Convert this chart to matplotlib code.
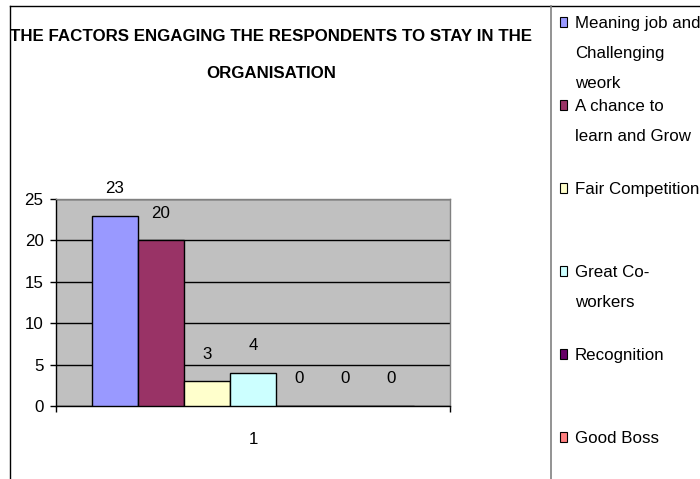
import matplotlib
matplotlib.use("Agg")
import matplotlib.pyplot as plt
from matplotlib.lines import Line2D
from matplotlib.patches import Rectangle

# no narrow Arial here, so plain Liberation Sans at a smaller size keeps the widths
plt.rcParams['font.family'] = ['Liberation Sans', 'DejaVu Sans']

# data
series = ["Meaning job and\nChallenging\nweork",
          "A chance to\nlearn and Grow",
          "Fair Competition",
          "Great Co-\nworkers",
          "Recognition",
          "Good Boss"]
values = [23, 20, 3, 4, 0, 0, 0]
colors = ["#9999FF", "#993366", "#FFFFCC", "#CCFFFF", "#660066", "#FF8080", "#0066CC"]
category = [1]
yticks = [0, 5, 10, 15, 20, 25]
title = "THE FACTORS ENGAGING THE RESPONDENTS TO STAY IN THE\nORGANISATION"

W, H = 700, 479
fig = plt.figure(figsize=(7, 4.79), dpi=100)


def fx(px):
    return px / W


def fy(py):
    return 1 - py / H


FS = 12.2

ax = fig.add_axes([fx(56), fy(406), fx(450) - fx(56), fy(199) - fy(406)])
ax.set_facecolor("#C0C0C0")

n = len(values)
bw = 46 / 394.0
for i, v in enumerate(values):
    xc = category[0] + (i - (n - 1) / 2.0) * bw
    ax.bar(xc, v, width=bw, color=colors[i], edgecolor="black", linewidth=1.0, zorder=3)
    ax.annotate(str(v), (xc, v), xytext=(0, 19.5), textcoords="offset points",
                ha="center", va="center", fontsize=FS, zorder=4)

ax.set_xlim(0.5, 1.5)
ax.set_ylim(0, 25)
ax.set_yticks(yticks)
ax.set_yticklabels([str(t) for t in yticks], fontsize=FS)
ax.yaxis.grid(True, color="black", linewidth=1.0, zorder=1)
ax.set_axisbelow(True)
ax.tick_params(axis="y", direction="out", length=4.5, width=1, pad=4.5, colors="black")

ax.set_xticks(category)
ax.set_xticklabels([str(c) for c in category], fontsize=FS)
ax.set_xticks([0.5, 1.5], minor=True)
ax.tick_params(axis="x", which="major", length=0, pad=19)
ax.tick_params(axis="x", which="minor", direction="out", length=4.5, width=1)

for s in ["top", "right"]:
    ax.spines[s].set_color("#808080")
    ax.spines[s].set_linewidth(1.0)
for s in ["left", "bottom"]:
    ax.spines[s].set_color("black")
    ax.spines[s].set_linewidth(1.0)

# title, two lines at the reference positions
for j, line in enumerate(title.split("\n")):
    fig.text(fx(271), fy(35 + 37 * j), line, ha="center", va="center_baseline",
             fontsize=FS, fontweight="bold")

# chart frame and legend box lines
fig.add_artist(Line2D([fx(10), fx(10)], [fy(6), 0], color="black", lw=1.0))
fig.add_artist(Line2D([fx(10), 1], [fy(6), fy(6)], color="black", lw=1.0))
fig.add_artist(Line2D([fx(551), fx(551)], [fy(6), 0], color="#808080", lw=1.2))

# legend drawn by hand so entries keep the reference spacing
for i, lab in enumerate(series):
    yc = 22 + 83 * i
    fig.add_artist(Rectangle((fx(560), fy(yc + 5)), fx(7), fy(yc - 5) - fy(yc + 5),
                             facecolor=colors[i], edgecolor="black", lw=0.8,
                             transform=fig.transFigure))
    for j, line in enumerate(lab.split("\n")):
        fig.text(fx(575), fy(yc + 30 * j), line, ha="left", va="center_baseline",
                 fontsize=FS)

fig.savefig("out.png", dpi=100)
